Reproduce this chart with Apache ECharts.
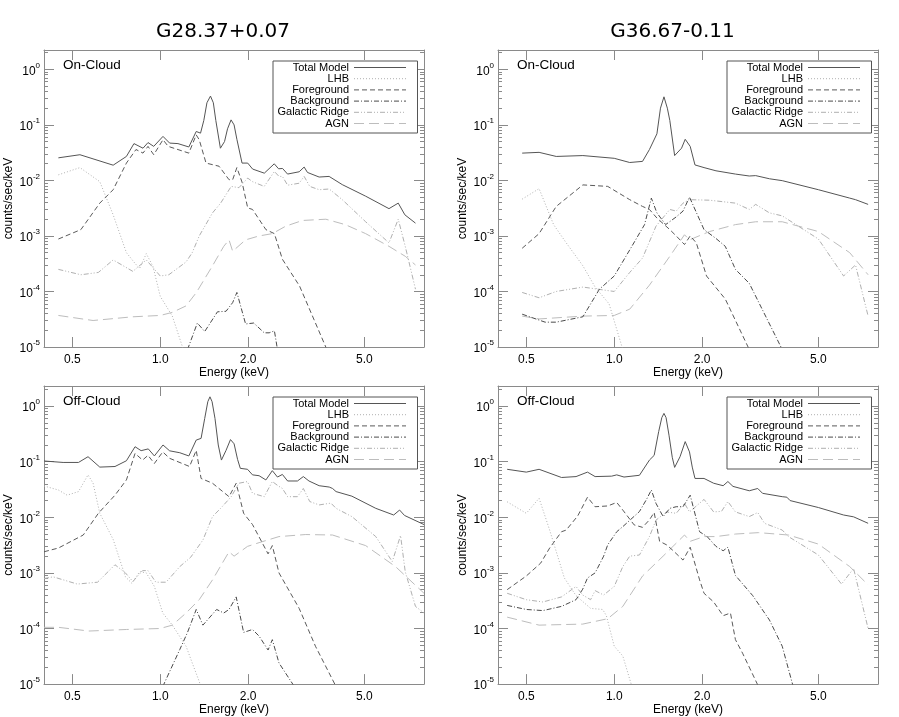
<!DOCTYPE html>
<html><head><meta charset="utf-8">
<script src="https://cdn.jsdelivr.net/npm/echarts@6/dist/echarts.min.js"></script>
<style>html,body{margin:0;padding:0;background:#fff}#c{width:899px;height:717px}</style>
</head><body><div id="c"></div>
<script>
// ---------- data ----------
const SERIES_NAMES = ['Total Model','LHB','Foreground','Background','Galactic Ridge','AGN'];
const SOURCE_TITLES = ['G28.37+0.07','G36.67-0.11'];
const PANEL_LABELS = ['On-Cloud','On-Cloud','Off-Cloud','Off-Cloud'];
const ENERGY_TICKS = [0.5, 1.0, 2.0, 5.0];
const DECADE_TICKS = [-5,-4,-3,-2,-1,0];

// G28.37+0.07 On-Cloud
const g28OnTotal = [[0.448,0.0255],[0.531,0.029],[0.69,0.0188],[0.766,0.027],[0.813,0.046],[0.873,0.038],[0.908,0.048],[0.95,0.041],[1.022,0.062],[1.077,0.047],[1.15,0.046],[1.253,0.040],[1.328,0.076],[1.374,0.071],[1.41,0.12],[1.445,0.25],[1.486,0.33],[1.52,0.25],[1.55,0.12],[1.607,0.038],[1.66,0.05],[1.70,0.085],[1.748,0.123],[1.79,0.10],[1.83,0.055],[1.906,0.0205],[1.993,0.0205],[2.072,0.016],[2.272,0.0135],[2.457,0.0199],[2.542,0.0162],[2.623,0.0164],[2.729,0.013],[2.99,0.0143],[3.11,0.0174],[3.193,0.0139],[3.5,0.0115],[3.786,0.0118],[4.2,0.0084],[5.05,0.0052],[6.07,0.0031],[6.53,0.0039],[6.88,0.0024],[7.48,0.0017]];
const g28OnLHB = [[0.448,0.0126],[0.531,0.017],[0.621,0.0095],[0.69,0.0024],[0.766,0.0005],[0.82,0.00032],[0.85,0.00026],[0.896,0.00048],[0.945,0.00028],[1.0,8.2e-5],[1.1,3.6e-5],[1.2,9e-6]];
const g28OnFore = [[0.448,0.00088],[0.535,0.0013],[0.621,0.0039],[0.69,0.0068],[0.766,0.0205],[0.826,0.036],[0.873,0.031],[0.908,0.041],[0.95,0.029],[1.022,0.054],[1.065,0.041],[1.253,0.031],[1.328,0.066],[1.36,0.054],[1.435,0.0205],[1.59,0.018],[1.72,0.0103],[1.77,0.0103],[1.83,0.017],[1.906,0.0093],[1.993,0.0032],[2.07,0.003],[2.3,0.0013],[2.46,0.0011],[2.62,0.00038],[3.0,0.000125],[3.72,9e-6]];
const g28OnBack = [[1.24,9e-6],[1.34,2.7e-5],[1.42,1.9e-5],[1.57,4.3e-5],[1.68,4.4e-5],[1.77,6.3e-5],[1.83,9.6e-5],[1.96,2.6e-5],[2.09,2.7e-5],[2.27,1.8e-5],[2.36,1.8e-5],[2.46,1.95e-5],[2.52,9e-6]];
const g28OnRidge = [[0.448,0.00025],[0.535,0.0002],[0.614,0.00022],[0.69,0.00037],[0.806,0.00023],[0.896,0.00037],[1.0,0.00019],[1.07,0.0002],[1.226,0.00034],[1.287,0.0005],[1.36,0.001],[1.51,0.0026],[1.61,0.0039],[1.75,0.0078],[1.86,0.0074],[1.993,0.011],[2.07,0.0095],[2.27,0.0078],[2.46,0.0145],[2.55,0.0118],[2.62,0.0118],[2.73,0.0082],[2.99,0.0089],[3.11,0.0118],[3.25,0.0078],[3.5,0.0068],[3.79,0.007],[4.2,0.0045],[5.05,0.0018],[6.07,0.00075],[6.53,0.002],[6.9,0.00065],[7.48,0.00011]];
const g28OnAGN = [[0.448,3.7e-5],[0.589,3.0e-5],[0.806,3.5e-5],[1.0,3.7e-5],[1.1,4.2e-5],[1.226,5.5e-5],[1.33,9.6e-5],[1.51,0.00029],[1.65,0.00065],[1.72,0.00085],[1.77,0.00053],[1.96,0.00085],[2.18,0.001],[2.42,0.0011],[2.69,0.0015],[3.07,0.0019],[3.69,0.002],[4.3,0.0016],[5.05,0.0011],[6.07,0.00065],[6.9,0.00043],[7.48,0.0003]];

// G36.67-0.11 On-Cloud
const g36OnTotal = [[0.484,0.031],[0.553,0.032],[0.633,0.027],[0.781,0.028],[1.0,0.025],[1.13,0.021],[1.25,0.022],[1.32,0.036],[1.40,0.069],[1.44,0.2],[1.48,0.32],[1.52,0.2],[1.55,0.12],[1.61,0.028],[1.7,0.038],[1.75,0.055],[1.82,0.041],[1.89,0.019],[2.03,0.017],[2.23,0.0149],[2.6,0.013],[2.9,0.012],[3.05,0.0122],[3.4,0.0107],[3.76,0.0099],[5.0,0.0068],[6.4,0.0048],[6.7,0.0045],[7.4,0.0037]];
const g36OnLHB = [[0.484,0.0046],[0.553,0.0071],[0.62,0.0016],[0.685,0.00075],[0.781,0.00029],[0.86,0.00012],[0.96,6e-5],[1.07,9e-6]];
const g36OnFore = [[0.484,0.0006],[0.553,0.0011],[0.633,0.0034],[0.781,0.0083],[0.95,0.0078],[1.13,0.0045],[1.25,0.0034],[1.32,0.003],[1.40,0.0021],[1.55,0.0013],[1.63,0.001],[1.74,0.0007],[1.82,0.001],[1.91,0.00075],[2.07,0.00019],[2.4,7.3e-5],[2.9,9e-6]];
const g36OnBack = [[0.484,3.9e-5],[0.58,2.8e-5],[0.633,2.8e-5],[0.781,3.5e-5],[0.89,0.00011],[1.0,0.00019],[1.13,0.00056],[1.27,0.0016],[1.34,0.0048],[1.40,0.0026],[1.5,0.0016],[1.63,0.0022],[1.72,0.0028],[1.81,0.005],[2.03,0.0013],[2.23,0.0009],[2.4,0.00065],[2.6,0.00025],[2.9,0.00014],[3.76,9e-6]];
const g36OnRidge = [[0.484,9.6e-5],[0.553,7.7e-5],[0.633,0.0001],[0.781,0.00012],[1.0,0.0001],[1.13,0.00022],[1.25,0.0004],[1.39,0.0015],[1.55,0.003],[1.63,0.0028],[1.72,0.0039],[1.81,0.0045],[2.12,0.0044],[2.6,0.0039],[2.9,0.003],[3.05,0.0037],[3.4,0.0026],[3.76,0.0023],[5.0,0.00088],[6.1,0.00019],[6.7,0.0003],[7.4,3.6e-5]];
const g36OnAGN = [[0.484,3.6e-5],[0.553,3.2e-5],[0.781,3.6e-5],[1.0,3.7e-5],[1.13,4.8e-5],[1.32,0.00013],[1.55,0.00043],[1.74,0.00105],[1.81,0.00085],[2.12,0.0012],[2.6,0.0016],[3.05,0.0018],[3.76,0.0018],[5.0,0.0012],[6.4,0.0005],[7.4,0.0002]];

// G28.37+0.07 Off-Cloud
const g28OffTotal = [[0.40,0.103],[0.465,0.097],[0.525,0.097],[0.566,0.123],[0.621,0.08],[0.70,0.082],[0.766,0.104],[0.82,0.186],[0.86,0.158],[0.91,0.17],[0.955,0.127],[1.022,0.2],[1.077,0.157],[1.167,0.145],[1.253,0.127],[1.328,0.245],[1.38,0.263],[1.42,0.6],[1.455,1.2],[1.48,1.47],[1.505,1.2],[1.54,0.6],[1.58,0.2],[1.62,0.107],[1.68,0.16],[1.74,0.25],[1.79,0.21],[1.84,0.11],[1.88,0.076],[1.99,0.073],[2.07,0.058],[2.18,0.056],[2.3,0.047],[2.42,0.069],[2.52,0.053],[2.62,0.059],[2.73,0.045],[2.95,0.045],[3.09,0.054],[3.23,0.045],[3.5,0.037],[3.79,0.035],[3.89,0.033],[4.0,0.029],[4.53,0.024],[5.47,0.0145],[6.3,0.011],[6.6,0.0135],[6.86,0.0108],[8.0,0.0074]];
const g28OffLHB = [[0.40,0.0366],[0.448,0.031],[0.48,0.025],[0.525,0.029],[0.566,0.058],[0.589,0.041],[0.621,0.0118],[0.69,0.004],[0.76,0.00085],[0.80,0.00065],[0.85,0.00105],[0.896,0.001],[0.955,0.00057],[1.02,0.00019],[1.1,0.000115],[1.226,4.8e-5],[1.287,2.4e-5],[1.34,1.37e-5],[1.38,9e-6]];
const g28OffFore = [[0.40,0.0024],[0.448,0.0028],[0.545,0.0048],[0.614,0.0118],[0.70,0.025],[0.766,0.047],[0.82,0.141],[0.87,0.107],[0.908,0.13],[0.955,0.093],[1.02,0.15],[1.077,0.115],[1.26,0.082],[1.328,0.16],[1.38,0.05],[1.51,0.041],[1.72,0.0235],[1.82,0.041],[1.93,0.0118],[2.07,0.0074],[2.24,0.0034],[2.34,0.0022],[2.42,0.0031],[2.55,0.001],[2.99,0.00023],[3.4,4.8e-5],[4.0,9e-6]];
const g28OffBack = [[1.02,9e-6],[1.167,4.2e-5],[1.24,8.5e-5],[1.328,0.00022],[1.40,0.000115],[1.56,0.00022],[1.65,0.00019],[1.72,0.00022],[1.82,0.00037],[1.93,8.5e-5],[2.07,9.6e-5],[2.18,7.3e-5],[2.34,4.1e-5],[2.42,6.3e-5],[2.55,2.4e-5],[2.88,9e-6]];
const g28OffRidge = [[0.40,0.00079],[0.43,0.00085],[0.52,0.00063],[0.61,0.00068],[0.70,0.0014],[0.76,0.001],[0.806,0.0007],[0.87,0.0011],[0.908,0.0011],[0.966,0.00068],[1.047,0.00068],[1.167,0.0013],[1.27,0.0019],[1.40,0.0039],[1.51,0.0103],[1.61,0.0145],[1.75,0.0235],[1.86,0.041],[1.99,0.044],[2.07,0.027],[2.27,0.0235],[2.42,0.044],[2.53,0.037],[2.62,0.033],[2.73,0.0235],[2.95,0.0235],[3.09,0.033],[3.25,0.0192],[3.5,0.0167],[3.84,0.018],[4.0,0.0145],[4.53,0.0103],[5.47,0.0045],[6.23,0.0016],[6.65,0.0047],[6.9,0.00105],[7.48,0.00025],[8.0,0.00019]];
const g28OffAGN = [[0.40,0.000105],[0.448,0.000105],[0.57,9e-5],[0.766,9.6e-5],[1.0,0.0001],[1.1,0.000115],[1.226,0.00019],[1.36,0.00033],[1.51,0.00075],[1.72,0.0024],[1.79,0.002],[1.99,0.003],[2.18,0.0035],[2.55,0.0045],[3.15,0.0049],[3.89,0.0048],[5.05,0.0031],[6.39,0.0013],[8.0,0.00043]];

// G36.67-0.11 Off-Cloud
const g36OffTotal = [[0.43,0.073],[0.5,0.065],[0.553,0.073],[0.66,0.052],[0.74,0.054],[0.81,0.065],[0.86,0.054],[0.98,0.055],[1.02,0.058],[1.08,0.053],[1.22,0.057],[1.32,0.107],[1.37,0.13],[1.42,0.35],[1.455,0.62],[1.48,0.74],[1.505,0.62],[1.54,0.3],[1.58,0.12],[1.61,0.079],[1.68,0.123],[1.75,0.23],[1.81,0.15],[1.85,0.08],[1.89,0.05],[2.03,0.05],[2.19,0.041],[2.36,0.037],[2.45,0.044],[2.55,0.036],[2.9,0.030],[3.1,0.033],[3.22,0.027],[3.76,0.0235],[3.9,0.023],[4.0,0.02],[5.0,0.015],[6.1,0.011],[6.6,0.0102],[7.4,0.0078]];
const g36OffLHB = [[0.43,0.019],[0.5,0.0118],[0.553,0.022],[0.601,0.0059],[0.675,0.00081],[0.74,0.00039],[0.83,0.00023],[0.913,0.00022],[0.94,0.00017],[1.0,4.8e-5],[1.07,3.2e-5],[1.15,9e-6]];
const g36OffFore = [[0.43,0.0005],[0.5,0.00088],[0.56,0.0015],[0.601,0.0028],[0.66,0.0055],[0.685,0.0059],[0.75,0.0106],[0.81,0.023],[0.86,0.0155],[0.95,0.016],[1.02,0.0185],[1.07,0.0135],[1.17,0.0073],[1.25,0.0066],[1.32,0.009],[1.37,0.0122],[1.43,0.0037],[1.51,0.0032],[1.58,0.0026],[1.72,0.0017],[1.82,0.0029],[1.96,0.00075],[2.03,0.00043],[2.19,0.0003],[2.36,0.00017],[2.5,0.00019],[2.6,6.3e-5],[2.75,3.6e-5],[3.12,9e-6]];
const g36OffBack = [[0.43,0.00026],[0.5,0.00022],[0.57,0.00021],[0.66,0.00025],[0.74,0.00033],[0.78,0.00051],[0.81,0.00081],[0.86,0.001],[0.92,0.002],[0.95,0.0032],[1.02,0.0055],[1.07,0.0068],[1.22,0.0127],[1.29,0.021],[1.34,0.031],[1.39,0.0178],[1.47,0.0103],[1.55,0.0145],[1.63,0.0155],[1.72,0.0155],[1.82,0.025],[1.96,0.0055],[2.08,0.0045],[2.23,0.003],[2.36,0.0025],[2.45,0.0029],[2.6,0.0009],[2.98,0.00039],[3.4,0.000142],[3.76,4.8e-5],[4.1,9e-6]];
const g36OffRidge = [[0.43,0.00043],[0.5,0.00033],[0.57,0.0003],[0.66,0.00037],[0.74,0.00057],[0.78,0.0004],[0.83,0.00033],[0.86,0.00048],[0.92,0.0004],[1.0,0.00057],[1.07,0.0013],[1.13,0.002],[1.22,0.0021],[1.32,0.0045],[1.39,0.0089],[1.51,0.0125],[1.63,0.0118],[1.74,0.0178],[1.81,0.0125],[2.03,0.021],[2.19,0.0125],[2.33,0.0128],[2.45,0.0192],[2.6,0.0125],[2.9,0.0103],[3.1,0.0122],[3.27,0.0078],[3.76,0.0059],[3.95,0.0045],[5.0,0.0021],[6.0,0.00063],[6.6,0.0012],[7.4,0.0001]];
const g36OffAGN = [[0.43,0.00016],[0.553,0.000115],[0.78,0.00012],[0.95,0.00015],[1.07,0.00025],[1.25,0.00088],[1.47,0.002],[1.74,0.0048],[1.82,0.0037],[2.03,0.0045],[2.23,0.0045],[2.6,0.005],[3.12,0.0053],[3.95,0.0048],[5.0,0.0033],[6.4,0.0013],[7.4,0.00061]];

const PANEL_DATA = [
  [g28OnTotal, g28OnLHB, g28OnFore, g28OnBack, g28OnRidge, g28OnAGN],
  [g36OnTotal, g36OnLHB, g36OnFore, g36OnBack, g36OnRidge, g36OnAGN],
  [g28OffTotal, g28OffLHB, g28OffFore, g28OffBack, g28OffRidge, g28OffAGN],
  [g36OffTotal, g36OffLHB, g36OffFore, g36OffBack, g36OffRidge, g36OffAGN]
];

// ---------- styles / layout ----------
const FRAME = '#8a8a8a';
const FONT = '"Liberation Sans", Arial, Helvetica, sans-serif';
const LINE_STYLES = [
  {color:'#555555', type:'solid'},
  {color:'#b0b0b0', type:[1,2]},
  {color:'#5a5a5a', type:[5,3]},
  {color:'#4a4a4a', type:[5,2,1,2]},
  {color:'#b0b0b0', type:[5,2,1,2,1,2]},
  {color:'#bdbdbd', type:[10,5]}
];
const GRIDS = [
  {left:44, top:50, width:380, height:297},
  {left:498, top:50, width:380, height:297},
  {left:44, top:386, width:380, height:299},
  {left:498, top:386, width:380, height:299}
];
const XMIN = 0.4, XMAX = 8;
const YMIN = 1e-5, YMAX = [2.23, 2.23, 2.3, 2.3];

const minorVals = [];
for (let d = -5; d < 1; d++) for (let k = 2; k <= 9; k++) minorVals.push(d + Math.log10(k));

const xAxes = [], yAxes = [], series = [], legends = [], graphics = [];
GRIDS.forEach((g, i) => {
  const lx0 = Math.log10(XMIN), lx1 = Math.log10(XMAX);
  const ly1 = Math.log10(YMAX[i]);
  const lineSt = {color: FRAME, width: 1};
  xAxes.push({type:'log', gridIndex:i, min:XMIN, max:XMAX, position:'bottom', show:false});
  xAxes.push({type:'value', gridIndex:i, position:'bottom', min:lx0, max:lx1,
    axisLine:{show:true, onZero:false, lineStyle:lineSt},
    axisTick:{show:true, inside:true, length:10, customValues: ENERGY_TICKS.map(Math.log10), lineStyle:lineSt},
    axisLabel:{show:true, customValues: ENERGY_TICKS.map(Math.log10), formatter: v => Math.pow(10, v).toFixed(1), color:'#000', fontSize:12, fontFamily:FONT, margin:7},
    splitLine:{show:false},
    name:'Energy (keV)', nameLocation:'middle', nameGap:19,
    nameTextStyle:{color:'#000', fontSize:12, fontFamily:FONT}
  });
  xAxes.push({type:'value', gridIndex:i, position:'top', min:lx0, max:lx1,
    axisLine:{show:true, onZero:false, lineStyle:lineSt},
    axisTick:{show:true, inside:true, length:10, customValues: ENERGY_TICKS.map(Math.log10), lineStyle:lineSt},
    axisLabel:{show:false}, splitLine:{show:false}
  });
  yAxes.push({type:'log', gridIndex:i, min:YMIN, max:YMAX[i], position:'left', show:false});
  yAxes.push({type:'value', gridIndex:i, position:'left', min:-5, max:ly1,
    axisLine:{show:true, onZero:false, lineStyle:lineSt},
    axisTick:{show:true, inside:true, length:10, customValues: DECADE_TICKS, lineStyle:lineSt},
    axisLabel:{show:true, customValues: DECADE_TICKS, margin:4,
      formatter: v => '{b|10}{s|' + Math.round(v) + '}',
      rich:{ b:{fontSize:12, fontFamily:FONT, color:'#000', lineHeight:16, verticalAlign:'bottom'},
             s:{fontSize:8, fontFamily:FONT, color:'#000', lineHeight:8, verticalAlign:'top'} } },
    splitLine:{show:false},
    name:'counts/sec/keV', nameLocation:'middle', nameGap:29, nameRotate:90,
    nameTextStyle:{color:'#000', fontSize:12, fontFamily:FONT}
  });
  yAxes.push({type:'value', gridIndex:i, position:'right', min:-5, max:ly1,
    axisLine:{show:true, onZero:false, lineStyle:lineSt},
    axisTick:{show:true, inside:true, length:10, customValues: DECADE_TICKS, lineStyle:lineSt},
    axisLabel:{show:false}, splitLine:{show:false}
  });
  yAxes.push({type:'value', gridIndex:i, position:'left', min:-5, max:ly1,
    axisLine:{show:false, onZero:false},
    axisTick:{show:true, inside:true, length:4, customValues: minorVals, lineStyle:lineSt},
    axisLabel:{show:false}, splitLine:{show:false}
  });
  yAxes.push({type:'value', gridIndex:i, position:'right', min:-5, max:ly1,
    axisLine:{show:false, onZero:false},
    axisTick:{show:true, inside:true, length:4, customValues: minorVals, lineStyle:lineSt},
    axisLabel:{show:false}, splitLine:{show:false}
  });

  PANEL_DATA[i].forEach((d, k) => {
    series.push({
      type:'line', name: SERIES_NAMES[k], xAxisIndex: 3*i, yAxisIndex: 5*i,
      data: d, symbol:'none', showSymbol:false, silent:true, clip:true,
      lineStyle:{color: LINE_STYLES[k].color, type: LINE_STYLES[k].type, width:1},
      itemStyle:{color: LINE_STYLES[k].color},
      z: 2 + (5 - k)
    });
  });

  legends.push({
    orient:'vertical', left: g.left + 229, top: g.top + 11, align:'right',
    itemWidth:52, itemHeight:10, itemGap:0.2, padding:[1, 11, 4, 1],
    borderColor:'#555', borderWidth:1, backgroundColor:'#fff',
    selectedMode:false, data: SERIES_NAMES.slice(),
    itemStyle:{opacity:0, borderWidth:0},
    lineStyle:{width:1},
    formatter: n => '{t|' + n + '}',
    textStyle:{fontSize:11, fontFamily:FONT, color:'#000',
      rich:{ t:{width:75, align:'right', fontSize:11, fontFamily:FONT, color:'#000', lineHeight:11.2} } }
  });

  graphics.push({type:'text', left: g.left + 19, top: g.top + 8,
    style:{text: PANEL_LABELS[i], fontSize:13.5, fontFamily:FONT, fill:'#000'}});
});
graphics.push({type:'text', x:223, y:31.5, style:{text:SOURCE_TITLES[0], fontSize:20, fontFamily:'"DejaVu Sans", sans-serif', fill:'#000', textAlign:'center', textVerticalAlign:'middle'}});
graphics.push({type:'text', x:672.5, y:31.5, style:{text:SOURCE_TITLES[1], fontSize:20, fontFamily:'"DejaVu Sans", sans-serif', fill:'#000', textAlign:'center', textVerticalAlign:'middle'}});

const chart = echarts.init(document.getElementById('c'), null, {renderer:'canvas'});
chart.setOption({
  animation:false,
  backgroundColor:'#fff',
  grid: GRIDS.map(g => Object.assign({containLabel:false}, g)),
  xAxis: xAxes, yAxis: yAxes,
  legend: legends,
  series: series,
  graphic: graphics
});
</script></body></html>
